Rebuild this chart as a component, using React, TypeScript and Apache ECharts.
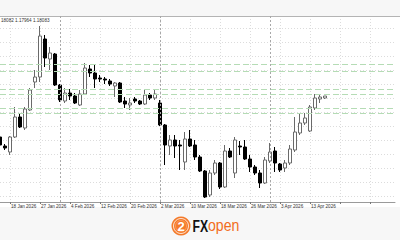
import React, { useEffect, useRef } from 'react';
import * as echarts from 'echarts';

// tick labels (category index -> label)
const tickIndex = [2, 8, 14, 20, 26, 32, 38, 44, 50, 56, 62];
const tickText = ['18 Jan 2026', '27 Jan 2026', '4 Feb 2026', '12 Feb 2026', '20 Feb 2026', '2 Mar 2026', '10 Mar 2026', '18 Mar 2026', '26 Mar 2026', '3 Apr 2026', '13 Apr 2026'];
const separatorIndex = [12, 32, 54];
const slotCount = 80;

const openP = [1.1640, 1.1604, 1.1580, 1.1640, 1.1720, 1.1676, 1.1748, 1.1860, 1.1880, 1.2032, 1.1952, 1.1972, 1.1848, 1.1784, 1.1816, 1.1804, 1.1768, 1.1812, 1.1912, 1.1896, 1.1876, 1.1872, 1.1864, 1.1844, 1.1856, 1.1784, 1.1768, 1.1792, 1.1784, 1.1772, 1.1808, 1.1796, 1.1776, 1.1688, 1.1604, 1.1628, 1.1608, 1.1540, 1.1632, 1.1608, 1.1560, 1.1504, 1.1408, 1.1496, 1.1536, 1.1440, 1.1584, 1.1496, 1.1604, 1.1600, 1.1552, 1.1520, 1.1496, 1.1456, 1.1544, 1.1584, 1.1532, 1.1516, 1.1536, 1.1588, 1.1656, 1.1696, 1.1664, 1.1756, 1.1792, 1.1796];
const closeP = [1.1608, 1.1596, 1.1640, 1.1720, 1.1680, 1.1752, 1.1828, 1.1880, 1.2044, 1.1956, 1.1976, 1.1848, 1.1788, 1.1816, 1.1804, 1.1776, 1.1812, 1.1916, 1.1896, 1.1872, 1.1872, 1.1868, 1.1852, 1.1856, 1.1780, 1.1772, 1.1776, 1.1784, 1.1772, 1.1808, 1.1796, 1.1812, 1.1688, 1.1608, 1.1628, 1.1604, 1.1604, 1.1632, 1.1604, 1.1560, 1.1504, 1.1400, 1.1496, 1.1536, 1.1440, 1.1584, 1.1560, 1.1628, 1.1600, 1.1552, 1.1520, 1.1496, 1.1456, 1.1548, 1.1580, 1.1536, 1.1508, 1.1536, 1.1592, 1.1660, 1.1696, 1.1716, 1.1760, 1.1796, 1.1800, 1.1804];
const lowP = [1.1600, 1.1588, 1.1568, 1.1636, 1.1676, 1.1668, 1.1744, 1.1836, 1.1860, 1.1920, 1.1908, 1.1844, 1.1780, 1.1776, 1.1788, 1.1772, 1.1764, 1.1808, 1.1880, 1.1836, 1.1860, 1.1852, 1.1844, 1.1800, 1.1776, 1.1756, 1.1748, 1.1776, 1.1768, 1.1768, 1.1788, 1.1788, 1.1684, 1.1528, 1.1568, 1.1556, 1.1508, 1.1508, 1.1600, 1.1548, 1.1500, 1.1396, 1.1400, 1.1488, 1.1432, 1.1436, 1.1556, 1.1476, 1.1568, 1.1548, 1.1500, 1.1488, 1.1436, 1.1452, 1.1536, 1.1500, 1.1500, 1.1500, 1.1528, 1.1580, 1.1648, 1.1688, 1.1660, 1.1748, 1.1776, 1.1792];
const highP = [1.1648, 1.1612, 1.1644, 1.1760, 1.1736, 1.1760, 1.1836, 1.1908, 1.2084, 1.2048, 1.2000, 1.1976, 1.1852, 1.1836, 1.1832, 1.1816, 1.1828, 1.1936, 1.1928, 1.1928, 1.1888, 1.1880, 1.1872, 1.1860, 1.1860, 1.1800, 1.1796, 1.1800, 1.1788, 1.1828, 1.1816, 1.1828, 1.1788, 1.1692, 1.1648, 1.1648, 1.1628, 1.1660, 1.1668, 1.1628, 1.1568, 1.1508, 1.1508, 1.1548, 1.1540, 1.1608, 1.1596, 1.1640, 1.1624, 1.1628, 1.1568, 1.1528, 1.1508, 1.1560, 1.1616, 1.1600, 1.1536, 1.1548, 1.1608, 1.1720, 1.1736, 1.1736, 1.1768, 1.1812, 1.1808, 1.1804];

const levels = [1.1932, 1.1904, 1.1832, 1.1812, 1.1756, 1.1736];
const headerText = '18082 1.17964 1.18083';

const priceMin = 1.1380;
const priceMax = 1.2124;

export default function App() {
  const ref = useRef<HTMLDivElement>(null);
  useEffect(() => {
    if (!ref.current) return;
    const chart = echarts.init(ref.current, undefined, { renderer: 'svg' });
    const categories = Array.from({ length: slotCount }, (_, i) => String(i));
    const labelMap: Record<number, string> = {};
    tickIndex.forEach((idx, k) => { labelMap[idx] = tickText[k]; });
    const isTick = (i: number) => i % 6 === 2;
    const candles = openP.map((o, i) => [o, closeP[i], lowP[i], highP[i]]);

    chart.setOption({
      animation: false,
      backgroundColor: '#ffffff',
      grid: [
        { left: 0, right: 5, top: 16, bottom: 38 },
        { left: 0, right: 5, top: 16, bottom: 44 },
      ],
      xAxis: [
        {
          type: 'category',
          gridIndex: 0,
          data: categories,
          boundaryGap: false,
          axisLine: { show: true, lineStyle: { color: '#9a9a9a', width: 1 } },
          axisTick: { show: true, interval: (i: number) => isTick(i), length: 2, lineStyle: { color: '#777' } },
          axisLabel: {
            show: true,
            interval: (i: number) => isTick(i),
            formatter: (_v: string, i: number) => labelMap[i] ?? '',
            fontSize: 4.6,
            fontFamily: 'Liberation Sans',
            color: '#333',
            align: 'left',
            margin: 1.5,
            padding: [0, 0, 0, 1],
          },
          splitLine: {
            show: true,
            interval: (i: number) => isTick(i),
            lineStyle: { color: '#dcdcdc', type: [1, 2], width: 1 },
          },
        },
        { type: 'value', gridIndex: 1, show: false, min: 0, max: 1 },
      ],
      yAxis: [
        {
          type: 'value',
          gridIndex: 0,
          min: priceMin,
          max: priceMax,
          show: false,
          splitLine: { show: false },
        },
        {
          type: 'value',
          gridIndex: 1,
          min: 0,
          max: 12.857,
          interval: 1,
          axisLine: { show: false },
          axisTick: { show: false },
          axisLabel: { show: false },
          splitLine: { show: true, lineStyle: { color: '#dcdcdc', type: [1, 2], width: 1 } },
        },
      ],
      series: [
        {
          type: 'candlestick',
          xAxisIndex: 0,
          yAxisIndex: 0,
          data: candles,
          barWidth: 3.4,
          clip: false,
          itemStyle: {
            color: '#ffffff',
            color0: '#000000',
            borderColor: '#6a6a6a',
            borderColor0: '#000000',
            borderWidth: 1,
          },
          markLine: {
            silent: true,
            symbol: 'none',
            precision: 5,
            label: { show: false },
            data: [
              ...levels.map((v) => ({ yAxis: v, lineStyle: { color: '#b5dcb5', type: [6, 3], width: 1 } })),
              ...separatorIndex.map((v) => ({ xAxis: String(v), lineStyle: { color: '#a8a8a8', type: [2, 2], width: 1 } })),
            ],
          },
        },
      ],
      graphic: [
        { type: 'rect', shape: { x: 0, y: 0, width: 400, height: 16 }, style: { fill: '#f7f7f7' }, z: 0 },
        { type: 'line', shape: { x1: 0, y1: 16.5, x2: 400, y2: 16.5 }, style: { stroke: '#b4b4b4', lineWidth: 1 }, z: 1 },
        { type: 'rect', shape: { x: 0, y: 207, width: 400, height: 33 }, style: { fill: '#f7f7f7' }, z: 0 },
        { type: 'text', x: 1, y: 20, style: { text: headerText, fontSize: 4.6, fontFamily: 'Liberation Sans', fill: '#333', verticalAlign: 'middle' }, z: 5 },
        { type: 'circle', shape: { cx: 181, cy: 226, r: 9.5 }, style: { fill: '#f47a2a' }, z: 5 },
        { type: 'circle', shape: { cx: 181, cy: 226, r: 7.5 }, style: { fill: 'none', stroke: '#ffffff', lineWidth: 0.8 }, z: 6 },
        { type: 'circle', shape: { cx: 181, cy: 226, r: 5.5 }, style: { fill: 'none', stroke: '#ffb07a', lineWidth: 0.6 }, z: 6 },
        { type: 'text', x: 181, y: 226.5, style: { text: '2', fontSize: 13, fontWeight: 'bold', fontFamily: 'Liberation Sans', fill: '#ffffff', align: 'center', verticalAlign: 'middle' }, z: 7 },
        { type: 'text', x: 192.5, y: 226, scaleX: 0.72, style: { text: 'FX', fontSize: 17, fontWeight: 'bold', fontFamily: 'Liberation Sans', fill: '#111111', verticalAlign: 'middle' }, z: 5 },
        { type: 'text', x: 208, y: 225, scaleX: 0.83, style: { text: 'open', fontSize: 17, fontFamily: 'Liberation Sans', fill: '#f26d21', verticalAlign: 'middle' }, z: 5 },
      ],
    });
    return () => chart.dispose();
  }, []);
  return <div ref={ref} style={{ width: 400, height: 240, position: 'absolute', left: 0, top: 0 }} />;
}
